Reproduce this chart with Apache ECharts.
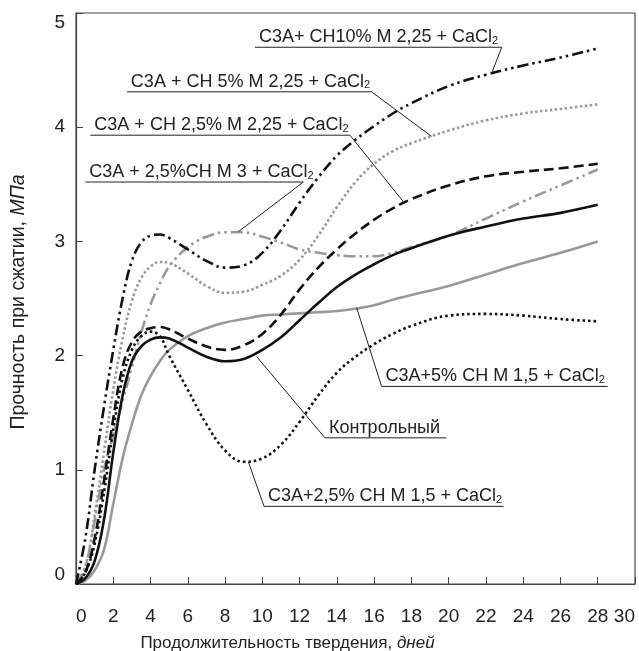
<!DOCTYPE html>
<html>
<head>
<meta charset="utf-8">
<script src="https://cdn.jsdelivr.net/npm/echarts@6/dist/echarts.min.js"></script>
<style>
html, body { margin: 0; padding: 0; background: #fff; }
#main { width: 639px; height: 651px; }
</style>
</head>
<body>
<div id="main"></div>
<script>
// days of hardening, shared by all curves
var days   = [0, 0.5, 1, 1.5, 2, 2.5, 3, 3.5, 4, 4.5, 5, 6, 7, 8, 9, 10, 11, 12, 13, 14, 15, 16, 17, 18, 20, 22, 24, 26, 28];
// strength, MPa
var ch10   = [0, 0.4, 1.0, 1.55, 2.05, 2.5, 2.83, 2.99, 3.05, 3.06, 3.03, 2.93, 2.83, 2.77, 2.79, 2.9, 3.1, 3.34, 3.56, 3.75, 3.89, 4.01, 4.12, 4.21, 4.36, 4.46, 4.54, 4.61, 4.69];
var ch5    = [0, 0.15, 0.6, 1.15, 1.7, 2.15, 2.48, 2.68, 2.78, 2.82, 2.81, 2.72, 2.61, 2.55, 2.56, 2.62, 2.7, 2.84, 3.05, 3.3, 3.52, 3.68, 3.79, 3.86, 3.97, 4.06, 4.12, 4.16, 4.2];
var ch25   = [0, 0.1, 0.4, 0.9, 1.45, 1.9, 2.12, 2.21, 2.24, 2.25, 2.23, 2.15, 2.08, 2.05, 2.09, 2.19, 2.36, 2.58, 2.77, 2.93, 3.07, 3.19, 3.29, 3.37, 3.49, 3.57, 3.61, 3.64, 3.68];
var m3     = [0, 0.15, 0.55, 1.0, 1.3, 1.6, 1.9, 2.2, 2.45, 2.63, 2.78, 2.95, 3.04, 3.08, 3.08, 3.04, 2.99, 2.93, 2.9, 2.88, 2.87, 2.87, 2.9, 2.95, 3.05, 3.2, 3.35, 3.49, 3.63];
var ctrl   = [0, 0.05, 0.2, 0.56, 1.15, 1.65, 1.95, 2.08, 2.14, 2.16, 2.15, 2.07, 1.99, 1.95, 1.97, 2.05, 2.16, 2.31, 2.46, 2.6, 2.71, 2.8, 2.88, 2.94, 3.05, 3.13, 3.2, 3.25, 3.32];
var m15dot = [0, 0.1, 0.35, 0.8, 1.35, 1.8, 2.05, 2.17, 2.21, 2.17, 2.0, 1.7, 1.4, 1.17, 1.07, 1.1, 1.22, 1.42, 1.65, 1.85, 1.99, 2.1, 2.19, 2.26, 2.35, 2.365, 2.35, 2.32, 2.3];
var m15    = [0, 0.03, 0.12, 0.3, 0.7, 1.1, 1.4, 1.65, 1.82, 1.95, 2.05, 2.17, 2.24, 2.29, 2.32, 2.35, 2.36, 2.37, 2.38, 2.39, 2.41, 2.44, 2.49, 2.53, 2.61, 2.71, 2.81, 2.9, 3.0];

// callouts: underline from/to and the point on the curve (in data units)
var notes = [
    {text: 'C3A+ CH10% M 2,25 + CaCl', sub: '2', from: [9.6, 4.70], to: [22.85, 4.70], tip: [22.3, 4.47], end: 'right'},
    {text: 'C3A + CH 5% M 2,25 + CaCl', sub: '2', from: [2.73, 4.31], to: [15.86, 4.31], tip: [19.08, 3.92], end: 'right'},
    {text: 'C3A + CH 2,5% M 2,25 + CaCl', sub: '2', from: [0.77, 3.93], to: [14.7, 3.93], tip: [17.65, 3.33], end: 'right'},
    {text: 'C3A + 2,5%CH M 3 + CaCl', sub: '2', from: [0.5, 3.52], to: [12.2, 3.52], tip: [8.71, 3.085], end: 'right'},
    {text: 'C3A+5% CH M 1,5 + CaCl', sub: '2', from: [16.4, 1.73], to: [28.54, 1.73], tip: [15.06, 2.42], end: 'left'},
    {text: 'Контрольный', sub: '', from: [13.36, 1.28], to: [19.88, 1.28], tip: [9.7, 1.99], end: 'left'},
    {text: 'C3A+2,5% CH M 1,5 + CaCl', sub: '2', from: [10.09, 0.68], to: [22.95, 0.68], tip: [9.25, 1.07], end: 'left'}
];

var FONT = "'Liberation Sans', Arial, sans-serif";

function pairs(vals) {
    return days.map(function (d, i) { return [d, vals[i]]; });
}

function curve(name, vals, color, type) {
    return {
        name: name,
        type: 'line',
        data: pairs(vals),
        smooth: 0.4,
        showSymbol: false,
        lineStyle: {color: color, width: 2.6, type: type, cap: 'butt'},
        z: color === '#111' ? 3 : 2
    };
}

var dom = document.getElementById('main');
var myChart = echarts.init(dom);
var option = {
    animation: false,
    grid: {
        left: 76, top: 13, right: 4, bottom: 67,
        show: true, borderColor: '#444', borderWidth: 1.2,
        outerBoundsMode: 'none'
    },
    xAxis: {
        type: 'value',
        min: 0, max: 30, interval: 2,
        name: 'Продолжительность твердения, {i|дней}',
        nameLocation: 'middle',
        nameGap: 51,
        nameTextStyle: {
            fontFamily: FONT, fontSize: 17, color: '#222', padding: [0, 136, 0, 0],
            rich: {i: {fontFamily: FONT, fontSize: 17, fontStyle: 'italic', color: '#222'}}
        },
        axisLine: {lineStyle: {color: '#444', width: 1.2}},
        axisTick: {inside: true, length: 7, lineStyle: {color: '#444'}},
        axisLabel: {
            fontFamily: FONT, fontSize: 19, color: '#222', margin: 23,
            alignMinLabel: 'left', alignMaxLabel: 'right'
        },
        splitLine: {show: false}
    },
    yAxis: {
        type: 'value',
        min: 0, max: 5, interval: 1,
        name: 'Прочность при сжатии, {i|МПа}',
        nameLocation: 'middle',
        nameGap: 47,
        nameTextStyle: {
            fontFamily: FONT, fontSize: 19.5, color: '#222', padding: [0, 7, 0, 0],
            rich: {i: {fontFamily: FONT, fontSize: 19.5, fontStyle: 'italic', color: '#222'}}
        },
        axisLine: {show: true, lineStyle: {color: '#444', width: 1.2}},
        axisTick: {show: true, inside: true, length: 7, lineStyle: {color: '#444'}},
        axisLabel: {
            fontFamily: FONT, fontSize: 19, color: '#222', margin: 11,
            verticalAlignMinLabel: 'bottom', verticalAlignMaxLabel: 'top'
        },
        splitLine: {show: false}
    },
    series: [
        curve('C3A+5% CH M 1,5 + CaCl2', m15, '#999', 'solid'),
        curve('C3A + 2,5%CH M 3 + CaCl2', m3, '#999', [12, 4, 2.5, 4, 2.5, 4]),
        curve('C3A + CH 5% M 2,25 + CaCl2', ch5, '#999', [2.5, 2.5]),
        curve('Контрольный', ctrl, '#111', 'solid'),
        curve('C3A+2,5% CH M 1,5 + CaCl2', m15dot, '#111', [2.5, 3]),
        curve('C3A + CH 2,5% M 2,25 + CaCl2', ch25, '#111', [10, 5]),
        curve('C3A+ CH10% M 2,25 + CaCl2', ch10, '#111', [11, 4, 2.5, 4, 2.5, 4])
    ]
};
myChart.setOption(option, true);

// callout text, underline and leader line placed from data coordinates
var graphics = [];
notes.forEach(function (n) {
    var a = myChart.convertToPixel({gridIndex: 0}, n.from);
    var b = myChart.convertToPixel({gridIndex: 0}, n.to);
    var t = myChart.convertToPixel({gridIndex: 0}, n.tip);
    var s = n.end === 'right' ? b : a;
    graphics.push({
        type: 'line', silent: true, z: 10,
        shape: {x1: a[0], y1: a[1], x2: b[0], y2: b[1]},
        style: {stroke: '#222', lineWidth: 1}
    });
    graphics.push({
        type: 'line', silent: true, z: 10,
        shape: {x1: s[0], y1: s[1], x2: t[0], y2: t[1]},
        style: {stroke: '#222', lineWidth: 1}
    });
    graphics.push({
        type: 'text', silent: true, z: 10,
        x: a[0] + 4, y: a[1] - 1,
        style: {
            text: n.text + (n.sub ? '{s|' + n.sub + '}' : ''),
            fontFamily: FONT, fontSize: 18, fill: '#222',
            verticalAlign: 'bottom',
            rich: {s: {fontFamily: FONT, fontSize: 11, fill: '#222', verticalAlign: 'bottom'}}
        }
    });
});
myChart.setOption({graphic: graphics});
</script>
</body>
</html>
